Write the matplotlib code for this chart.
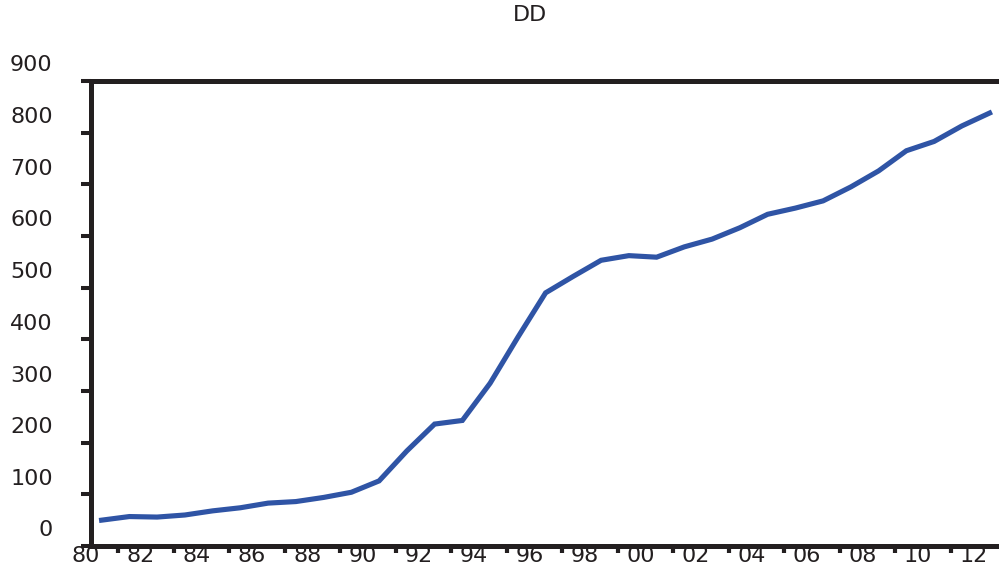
import matplotlib
matplotlib.use("Agg")
import matplotlib.pyplot as plt
import matplotlib.transforms as mtransforms
import numpy as np

years = np.arange(1980, 2013) + 0.4
values = [50, 57, 56, 60, 68, 74, 83, 86, 94, 104, 126, 184, 236, 243, 315, 404,
          490, 522, 553, 562, 559, 579, 594, 616, 642, 654, 668, 695, 726, 765,
          783, 813, 838]
yticks = [0, 100, 200, 300, 400, 500, 600, 700, 800, 900]
xmajor = list(range(1980, 2013, 2))
xlabels = [f"{y % 100:02d}" for y in xmajor]
xminor = list(range(1981, 2013, 2))

W, H = 999, 567
fig = plt.figure(figsize=(W / 100, H / 100), dpi=100)
plt.rcParams['font.family'] = ['DejaVu Sans']
dark = '#231F20'

x0 = 90.5
pxyr = 27.75
ax = fig.add_axes([x0 / W, 21 / H, 33 * pxyr / W, 465 / H])
ax.plot(years, values, color='#2F54A5', lw=3.7, solid_joinstyle='miter')
ax.set_xlim(1980, 2013)
ax.set_ylim(0, 900)

for s in ['top', 'left', 'bottom']:
    ax.spines[s].set_linewidth(3.6)
    ax.spines[s].set_color(dark)
ax.spines['right'].set_visible(False)

ax.set_yticks(yticks)
ax.set_yticklabels([str(v) for v in yticks])
ax.tick_params(axis='y', direction='out', length=7.2, width=2.9, color=dark,
               pad=20, labelsize=16, labelcolor=dark)

ax.set_xticks(xmajor)
ax.set_xticklabels(xlabels)
ax.set_xticks(xminor, minor=True)
ax.tick_params(axis='x', which='major', length=0, pad=0, labelsize=16, labelcolor=dark)
ax.tick_params(axis='x', which='minor', direction='out', length=5.2, width=3.0, color=dark)

dy = mtransforms.ScaledTranslation(0, 17.5 / 100, fig.dpi_scale_trans)
for lab in ax.get_yticklabels():
    lab.set_transform(lab.get_transform() + dy)
dx = mtransforms.ScaledTranslation(-5 / 100, 0, fig.dpi_scale_trans)
for lab in ax.get_xticklabels():
    lab.set_transform(lab.get_transform() + dx)

fig.text(530 / W, 1 - 15 / H, 'DD', ha='center', va='center', fontsize=16, color=dark)

fig.savefig('out.png', dpi=100)
